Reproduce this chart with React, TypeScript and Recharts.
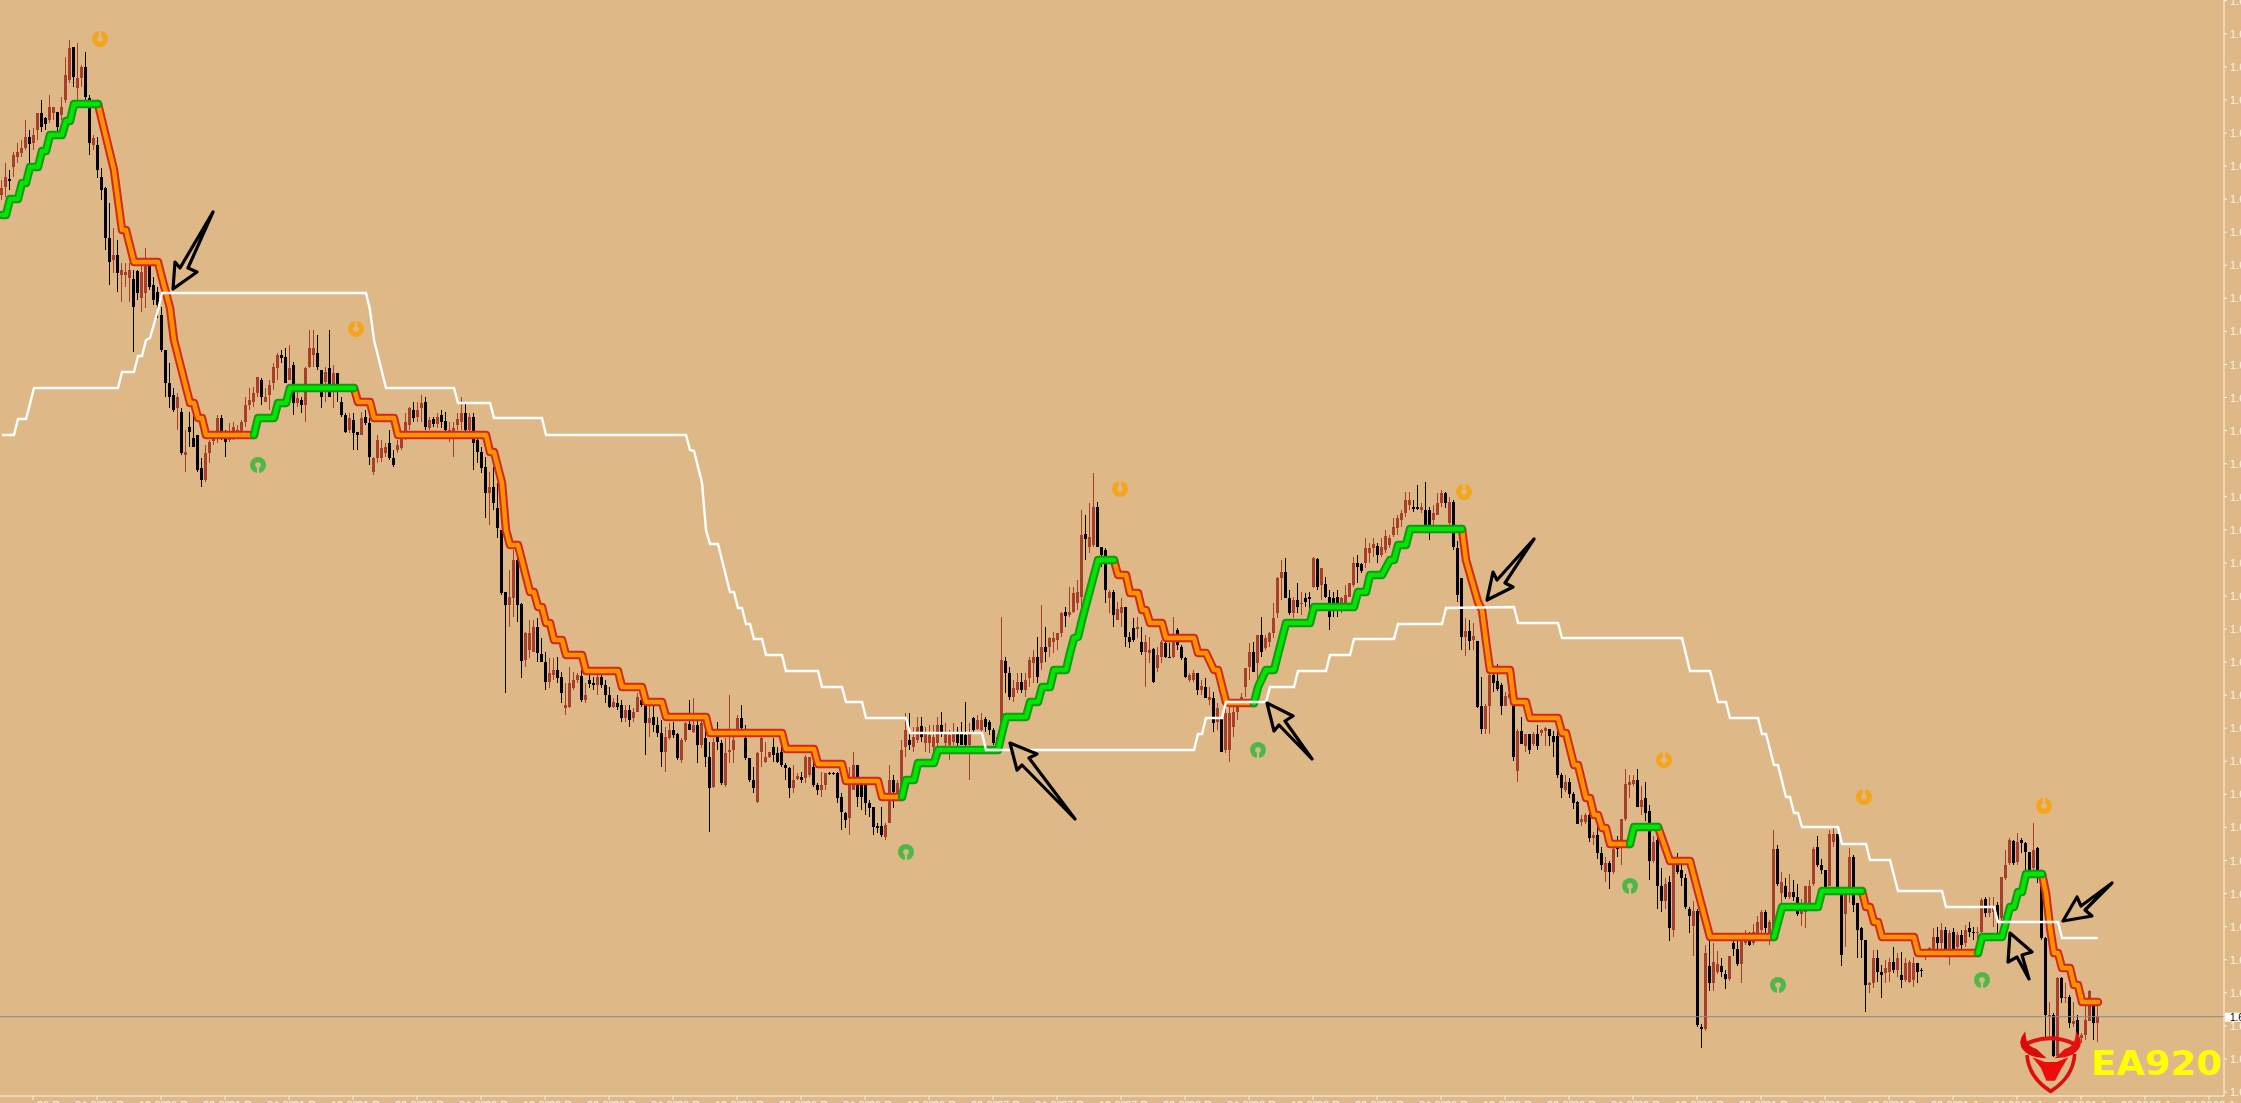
import { Bar, ComposedChart, Line, ReferenceDot, ReferenceLine, XAxis, YAxis } from 'recharts';

type Candle = [number, number, number, number]; // open, high, low, close
type Knot = [number, number]; // bar index, price in points above 1.60000

const BG = '#deb887';
const AXIS = '#fbf3e2';
const BULL = '#a73f2b';
const BEAR = '#000000';

const candlesRise: Candle[] = [
  [905,920,900,912],[913,937,903,923],[921,930,910,919],[933,948,923,945],[943,957,937,948],[947,960,943,952],[952,980,950,963],[963,970,930,956],[957,972,950,965],[970,987,960,987],
  [987,1000,968,973],[982,983,970,976],[980,1005,977,993],[987,993,980,993],[988,988,968,973],[985,1003,980,993],[1000,1043,997,1025],[1020,1060,1017,1052],[1053,1053,1013,1023],[1012,1057,1000,1022],
  [1022,1035,1013,1033],[1033,1048,1000,1003],[1002,1005,945,957],[955,965,950,962],[955,963,922,930],[923,932,900,910],[912,913,850,862],[862,897,815,838],[840,872,827,845],[845,860,808,827],
  [825,837,798,830],[825,837,813,828],[822,837,798,830],[821,830,748,793],[829,830,800,807],[802,837,788,828],[807,852,792,837],[835,840,810,813],[815,823,795,800],[808,813,782,795],
  [785,793,748,750],[750,750,703,717],[717,737,692,703],[705,712,688,690],[692,707,670,703],[688,692,645,647],[645,670,628,648],[673,688,653,668],[662,687,653,653],[665,665,628,630],
  [632,642,613,620],[620,655,618,647],[647,660,637,658],[659,667,655,663],[663,685,657,682],[682,685,660,668],[662,670,643,658],[660,677,658,667],[663,678,660,673],[665,675,662,670],
  [668,680,667,678],[678,703,673,695],[695,712,690,700],[698,713,693,707],[707,723,703,723],[720,722,695,703],[698,712,698,703],[705,720,690,715],[717,737,710,733],[732,747,720,745],
  [745,750,737,742],[743,752,717,717],[720,755,720,732],[735,738,685,697],[697,708,693,702],[700,703,687,695],[695,733,678,732],[733,770,732,752],[745,770,733,752],[747,765,730,733],
  [730,730,692,703],[718,733,698,728],[732,770,703,703],[710,735,692,727],[727,727,698,708],[698,703,683,685],[685,687,667,668],[670,687,667,682],[680,687,650,667],[668,668,650,665],
  [665,688,665,682],[683,690,675,677],[677,682,635,643],[628,643,625,642],[642,665,637,660],[642,660,638,652],[647,657,643,653],[657,670,640,642],[642,650,633,635],[650,660,647,655],
];

const candlesSlide: Candle[] = [
  [652,667,650,662],[668,687,660,678],[675,693,670,692],[690,698,678,682],[683,698,678,690],[692,705,678,697],[698,703,670,673],[672,683,670,680],[681,683,673,676],[676,687,672,683],
  [685,690,672,678],[679,688,668,670],[667,678,658,670],[668,678,643,672],[675,687,670,681],[678,703,670,687],[687,698,668,670],[670,687,668,683],[683,687,630,657],[660,663,637,648],
  [648,653,627,632],[633,643,582,607],[607,628,575,613],[613,633,590,597],[592,617,562,572],[570,570,505,507],[508,508,407,495],[495,530,473,503],[502,550,483,540],[540,542,478,495],
  [496,497,422,439],[440,468,433,467],[450,480,442,467],[448,480,448,473],[473,482,438,447],[446,462,438,438],[438,448,410,418],[418,442,412,427],[425,442,420,430],[430,443,417,422],
  [423,428,397,407],[392,417,385,395],[393,433,392,417],[412,428,410,420],[420,427,417,425],[424,430,398,400],[400,417,397,405],[420,425,412,416],[417,423,410,415],[415,425,405,423],
  [423,425,412,415],[415,420,397,405],[405,413,392,393],[393,402,392,398],[397,405,390,393],[395,400,378,382],[382,395,378,390],[390,395,373,380],[382,392,378,388],[388,407,388,403],
  [400,403,393,395],[395,397,345,377],[377,395,363,382],[383,395,368,375],[375,383,363,367],[367,380,333,348],[348,373,328,363],[362,377,360,370],[370,378,362,365],[366,367,340,342],
  [340,362,337,360],[360,378,358,377],[376,400,370,370],[368,402,367,375],[375,385,337,355],[355,382,352,377],[362,380,333,343],[343,358,268,312],[313,362,312,358],[367,378,350,358],
  [357,360,315,317],[315,362,313,347],[348,405,337,350],[350,367,337,360],[370,385,368,382],[382,395,367,372],[362,375,340,342],[342,342,318,320],[320,333,307,312],[298,348,297,347],
  [348,363,333,362],[338,358,337,343],[343,348,342,348],[353,362,338,345],[347,353,337,338],[348,357,333,335],[335,337,320,332],[332,333,302,312],[312,335,307,320],[321,327,320,324],
  [323,328,317,320],[322,345,317,343],[325,343,323,343],[333,340,313,315],[315,317,305,310],[310,328,303,315],[315,327,310,327],[327,328,325,326],[327,328,325,326],[327,328,297,302],
  [303,307,270,288],[287,288,272,280],[282,333,265,320],[310,348,310,335],[335,335,293,303],[317,322,290,303],[315,315,285,297],[297,300,283,292],[293,293,265,273],[274,277,267,272],
  [274,293,263,265],[263,277,260,275],[277,335,277,320],[320,325,292,308],[305,320,303,317],
];

const candlesRebound: Candle[] = [
  [307,360,307,350],[353,387,343,370],[360,387,350,355],[353,373,348,363],[360,383,357,373],[374,383,358,363],[357,373,348,367],[357,375,347,365],[353,375,340,363],[357,383,353,375],
  [375,388,363,367],[357,377,347,367],[355,370,340,365],[358,377,355,367],[367,373,353,357],[367,378,355,355],[365,398,352,355],[355,377,320,367],[382,383,367,370],[371,385,370,380],
  [370,387,365,380],[381,383,368,373],[378,380,365,370],[370,372,355,357],[355,363,347,363],[373,483,367,440],[439,443,407,427],[427,433,400,403],[403,420,398,412],[410,427,407,418],
  [418,427,407,410],[410,427,403,420],[422,443,413,440],[437,450,417,443],[443,463,417,423],[437,495,430,453],[453,473,438,448],[453,463,443,462],[458,468,447,462],[460,467,450,467],
  [467,488,463,487],[488,493,473,484],[485,513,483,488],[488,513,487,507],[497,520,490,508],[503,590,493,565],[566,585,540,561],[553,597,547,563],[555,627,553,593],[593,598,553,553],
  [553,553,533,545],[550,552,497,510],[502,510,487,508],[508,510,473,485],[480,498,480,491],[487,502,473,493],[493,493,453,463],[463,468,452,458],[472,482,458,460],[471,483,462,473],
  [458,473,445,448],[448,465,413,458],[447,463,437,450],[451,452,417,418],[432,453,428,445],[443,460,437,458],[457,458,442,443],[443,457,442,442],[443,483,442,458],[470,472,450,455],
  [453,455,440,442],[442,443,422,423],[420,427,418,425],[420,430,418,427],[427,427,405,410],[410,420,405,414],[413,422,402,402],[400,413,395,403],[402,408,368,377],[378,397,370,392],
  [382,383,348,348],[350,393,347,387],[350,397,338,387],[373,397,363,388],[388,393,380,393],[397,407,393,403],[413,432,403,432],[433,457,420,448],[448,458,428,428],[437,465,420,465],
  [465,483,443,448],[452,465,450,462],[458,468,453,467],[467,497,462,482],[487,523,482,522],[522,540,500,528],[528,542,507,502],[502,510,485,487],[487,503,482,500],[500,517,487,493],
  [496,508,485,497],[502,507,493,498],[503,508,490,501],[513,543,512,542],[541,542,510,513],[515,532,500,532],[516,523,502,503],[503,510,470,483],[502,508,483,493],[503,510,483,493],
  [493,503,487,502],[495,515,493,505],[503,517,503,517],[515,543,513,537],[537,545,517,533],[536,537,527,529],[537,562,532,552],[547,557,537,552],[552,562,543,556],[554,557,537,545],
  [545,562,543,553],[550,570,547,564],[555,565,552,562],[565,582,563,573],[572,585,565,582],[580,590,573,587],[587,608,583,600],[595,608,590,600],[593,600,588,591],[593,615,590,591],
  [590,597,587,593],[590,618,575,575],[590,593,560,575],[580,595,575,587],[585,607,585,597],[597,610,593,607],[607,608,592,597],[577,603,575,598],[598,600,550,553],
];

const candlesDrop: Candle[] = [
  [552,559,498,505],[522,522,450,463],[463,482,444,469],[469,480,450,459],[460,477,450,464],[459,459,392,393],[394,423,366,371],[371,396,366,394],[394,427,366,425],[425,426,408,417],
  [419,436,409,411],[415,417,385,394],[394,408,394,404],[402,417,402,406],[398,400,339,343],[329,371,318,369],[369,383,356,356],[354,366,348,366],[366,366,346,350],[356,368,354,366],
  [366,375,350,354],[367,371,364,370],[369,373,354,372],[371,371,354,364],[364,369,343,358],[364,375,322,325],[325,327,302,312],[310,325,308,318],[318,322,302,306],[306,308,291,297],
  [298,299,276,276],[278,285,274,281],[278,287,276,285],[285,287,258,262],[262,268,255,265],[265,274,241,247],[247,253,230,235],[228,243,218,237],[237,239,211,228],[228,253,226,251],
  [258,264,243,251],[258,281,235,281],[281,331,279,316],[315,325,302,318],[316,325,314,320],[320,331,293,293],[293,314,285,300],[302,318,279,287],[289,295,220,239],[239,264,237,258],
  [260,268,191,214],[214,232,188,199],[199,222,191,216],[218,224,159,172],[170,237,163,235],[235,247,226,228],[230,235,214,222],[222,226,191,193],[191,193,167,184],[174,199,144,189],
  [189,191,73,75],[73,76,52,71],[71,155,69,147],[134,159,109,117],[117,157,109,138],[128,149,126,136],[134,142,123,128],[126,130,111,121],[121,144,119,144],[157,159,144,151],
  [151,159,134,136],[136,161,117,159],[157,170,155,165],[159,168,154,155],[157,176,155,168],[163,184,163,178],[170,190,167,188],[188,190,163,172],[163,180,155,178],[170,270,163,251],
  [251,255,214,216],[207,228,197,218],[214,222,201,203],[203,226,201,208],[208,220,199,203],[203,216,184,186],[186,201,174,193],[188,214,172,214],[197,220,195,214],[216,253,214,251],
  [253,264,233,235],[235,241,226,230],[230,230,211,213],[214,270,214,266],[258,274,253,266],[266,266,209,213],[211,211,134,145],[186,208,153,205],[210,252,197,243],[243,245,188,195],
  [197,197,142,170],[172,173,142,160],[160,160,88,115],[115,118,107,117],[117,150,112,142],[142,150,118,128],[128,135,102,125],[127,140,117,132],[128,142,118,138],[138,153,127,130],
  [130,147,123,142],[125,148,112,120],[120,142,118,137],[118,140,117,138],[120,143,113,137],[137,137,117,128],[130,132,123,129],[145,150,140,148],[147,153,143,152],[150,172,148,163],
  [163,173,148,157],[157,177,150,170],[170,173,143,150],[150,170,135,167],[168,172,150,150],[153,168,148,165],[165,170,150,155],[157,175,153,170],[172,178,163,168],[168,173,160,167],
  [167,173,150,168],[168,202,167,200],[201,203,183,187],[187,203,183,193],[188,203,173,193],[195,198,165,180],[182,223,167,223],[222,250,220,235],[237,262,235,260],[259,260,235,237],
  [238,267,235,258],[260,262,247,257],[257,258,210,248],[248,248,225,230],[232,277,230,250],[252,253,217,230],[228,230,160,162],[162,163,63,85],[83,98,63,85],[85,87,43,44],
  [44,123,43,122],[122,123,97,102],[102,117,97,103],[103,105,72,77],[76,98,73,79],[80,85,60,65],[62,67,57,65],[65,98,60,80],[79,110,79,109],[94,95,60,77],
  [77,97,58,84],
];

const greenRuns: Knot[][] = [
  [[0,885],[1,885],[2,901],[4,901],[5,917],[6,917],[7,933],[9,933],[10,949],[11,949],[12,965],[15,965],[16,979],[17,979],[18,996],[24,996]],
  [[63,665],[64,682],[68,682],[69,697],[71,697],[72,712],[88,712]],
  [[225,303],[226,320],[228,320],[229,337],[233,337],[234,350],[249,350],[250,367],[251,383],[256,383],[257,398],[259,398],[260,413],[262,413],[263,430],[266,430],[267,447],[268,462],[269,463],[270,480],[274,540],[278,540]],
  [[313,397],[314,413],[316,430],[318,430],[321,477],[327,477],[328,493],[338,493],[339,508],[341,508],[342,525],[345,525],[347,540],[348,540],[349,555],[351,555],[352,571],[365,571]],
  [[407,256],[408,273],[414,273]],
  [[443,163],[445,193],[454,193],[455,209],[465,209]],
  [[494,147],[495,163],[500,163],[502,193],[503,193],[504,208],[505,208],[506,226],[510,226]],
];

const redRuns: Knot[][] = [
  [[24,996],[26,963],[28,930],[29,900],[30,870],[31,870],[33,838],[39,838],[40,822],[42,792],[43,760],[47,697],[48,697],[49,682],[50,682],[51,665],[63,665]],
  [[88,712],[89,698],[92,698],[93,682],[98,682],[99,665],[121,665],[122,648],[123,648],[125,617],[126,570],[127,555],[129,555],[132,508],[133,508],[134,493],[135,493],[136,477],[137,477],[138,460],[140,460],[141,445],[145,445],[146,429],[154,429],[155,413],[160,413],[161,398],[165,398],[166,383],[176,383],[177,367],[195,367],[196,351],[203,351],[204,336],[210,336],[211,319],[219,319],[220,303],[225,303]],
  [[278,540],[279,525],[281,525],[282,507],[284,507],[285,490],[286,490],[287,477],[290,477],[291,462],[298,462],[299,447],[301,447],[303,430],[304,430],[306,398],[307,397],[313,397]],
  [[365,571],[366,540],[369,498],[370,490],[371,459],[372,430],[377,430],[378,398],[381,398],[382,382],[389,382],[390,367],[391,367],[393,335],[394,335],[396,302],[397,302],[398,285],[399,285],[400,272],[401,272],[402,256],[407,256]],
  [[414,273],[417,239],[422,239],[427,163],[443,163]],
  [[465,209],[466,193],[467,193],[468,178],[469,178],[470,163],[478,163],[479,147],[494,147]],
  [[510,226],[511,207],[512,173],[513,147],[514,147],[515,132],[517,132],[518,115],[519,115],[520,98],[524,98]],
];

const whiteLine: Knot[] = [
  [0,665],[3,665],[4,681],[6,681],[8,712],[29,712],[30,728],[33,728],[34,744],[35,744],[36,760],[37,762],[39,790],[40,807],[91,807],[92,790],[93,760],[96,712],[113,712],[114,697],[122,697],[123,682],[135,682],[136,665],[171,665],[172,650],[173,649],[175,617],[176,570],[177,556],[179,556],[182,508],[183,508],[184,492],[185,492],[186,476],[187,476],[188,461],[190,461],[191,445],[195,445],[196,429],[204,429],[205,413],[210,413],[211,398],[215,398],[216,382],[226,382],[227,367],[245,367],[246,350],[298,350],[299,366],[300,366],[301,382],[305,382],[306,398],[316,398],[317,413],[323,413],[324,429],[331,429],[332,445],[337,445],[338,461],[348,461],[349,476],[360,476],[361,492],[378,493],[379,477],[389,477],[390,462],[420,462],[422,429],[427,429],[429,398],[431,398],[432,382],[439,382],[440,366],[441,366],[443,335],[444,335],[446,303],[447,303],[448,287],[449,287],[450,273],[459,273],[460,256],[466,256],[467,240],[472,240],[474,209],[485,209],[486,193],[498,193],[499,178],[514,178],[515,162],[524,162],
];

const sellMarks: Knot[] = [[24,1061],[88,771],[279,611],[365,608],[415,340],[465,303],[510,294]];
const buyMarks: Knot[] = [[64,635],[226,248],[314,350],[407,214],[444,115],[495,120]];

// hand-drawn annotation arrows: tip on the price scale, outline offsets in pixels
const arrowTips: Knot[] = [[42.75,811],[252,357],[316.25,397],[371.25,500],[502,167],[515.25,179]];
const arrowOutlines = [
  '0,0 2,-27 7,-21 40,-77 15,-21 24,-17',
  '0,0 27,11 19,15 65,76 12,22 7,27',
  '0,0 26,13 18,18 45,56 12,22 7,28',
  '0,0 6,-28 10,-20 47,-61 18,-17 26,-13',
  '0,0 22,19 12,22 19,46 7,24 -2,29',
  '0,0 14,-24 18,-15 49,-38 22,-11 29,-5',
];

const currentPrice = 83.3;
const priceTicks = [1099.3,1066.2,1033.2,1000.1,967,934,900.9,867.8,834.7,801.7,768.6,735.5,702.5,669.4,636.3,603.3,570.2,537.1,504,471,437.9,404.8,371.8,338.7,305.6,272.6,239.5,206.4,173.3,140.3,107.2,74.1,41.1,8];
const timeTicks = [7.75,23.75,39.75,55.75,71.75,87.75,103.75,119.75,135.75,151.75,167.75,183.75,199.75,215.75,231.75,247.75,263.75,279.75,295.75,311.75,327.75,343.75,359.75,375.75,391.75,407.75,423.75,439.75,455.75,471.75,487.75,503.75,519.75,535.75,551.75];
const timeLabels = ['20 Dec 04:00','20 Dec 12:00','20 Dec 20:00','21 Dec 04:00','21 Dec 12:00','21 Dec 20:00','22 Dec 04:00','22 Dec 12:00','22 Dec 20:00','23 Dec 04:00','23 Dec 12:00','23 Dec 20:00','26 Dec 04:00','26 Dec 12:00','26 Dec 20:00','27 Dec 04:00','27 Dec 12:00','27 Dec 20:00','28 Dec 04:00','28 Dec 12:00','28 Dec 20:00','29 Dec 04:00','29 Dec 12:00','29 Dec 20:00','30 Dec 04:00','30 Dec 12:00','30 Dec 20:00','31 Dec 04:00','31 Dec 12:00','31 Dec 20:00','01 Jan 04:00','01 Jan 12:00','01 Jan 20:00','02 Jan 04:00','02 Jan 12:00'];

const candles = [...candlesRise, ...candlesSlide, ...candlesRebound, ...candlesDrop];

const rows: any[] = candles.map(([open, high, low, close], i) => ({ i, open, close, range: [low, high] }));

function addKnots(key: string, knots: Knot[]) {
  knots.forEach(([i, value]) => {
    if (rows[i]) rows[i][key] = value;
  });
}
addKnots('white', whiteLine);
addKnots('sell', sellMarks);
addKnots('buy', buyMarks);
greenRuns.forEach((run, n) => addKnots(`green${n}`, run));
redRuns.forEach((run, n) => addKnots(`red${n}`, run));

function CandleShape(props: any) {
  const { x, y, width, height, payload } = props;
  const [low, high] = payload.range;
  const perPoint = height / (high - low);
  const center = Math.floor(x + width / 2);
  const top = y + (high - Math.max(payload.open, payload.close)) * perPoint;
  const bottom = y + (high - Math.min(payload.open, payload.close)) * perPoint;
  const fill = payload.close >= payload.open ? BULL : BEAR;
  return (
    <g>
      <rect x={center} y={y} width={1} height={height} fill={fill} />
      <rect x={center - 1} y={top} width={3} height={Math.max(bottom - top, 1)} fill={fill} />
    </g>
  );
}

function SignalMark({ cx, cy, value, color, up, shift = 0 }: any) {
  if (value === null || value === undefined) return <g />;
  const x = cx + shift;
  return (
    <g>
      <circle cx={x} cy={cy} r={8} fill={color} />
      <circle cx={x} cy={cy} r={2.8} fill={BG} />
      <rect x={x - 1.1} y={up ? cy : cy - 8.5} width={2.2} height={8.5} fill={BG} />
    </g>
  );
}

function PriceTick({ x, y, payload }: any) {
  if (payload.value === currentPrice) {
    return (
      <g>
        <rect x={x + 1} y={y - 4} width={17} height={9} fill="#ffffff" />
        <text x={x + 6} y={y + 4} fontSize={10} fontFamily="Liberation Sans" fill="#000">1.6</text>
      </g>
    );
  }
  return (
    <g>
      <line x1={x} x2={x + 3} y1={y} y2={y} stroke={AXIS} />
      <text x={x + 6} y={y + 4} fontSize={11} fontFamily="Liberation Sans" fill={AXIS}>
        {(1.6 + payload.value / 100000).toFixed(5)}
      </text>
    </g>
  );
}

function TimeTick({ x, y, index }: any) {
  return (
    <g>
      <line x1={x} x2={x} y1={y} y2={y + 4} stroke={AXIS} />
      <text x={x + 4} y={y + 13} fontSize={11} fontFamily="Liberation Sans" fill={AXIS}>
        {timeLabels[index]}
      </text>
    </g>
  );
}

function Logo() {
  return (
    <svg width={2241} height={1103} style={{ position: 'absolute', left: 0, top: 0, pointerEvents: 'none' }}>
      <g transform="translate(2015 1030) scale(0.3333)">
        <path d="M32 42 Q105 8 178 42" fill="none" stroke="#e60f0f" strokeWidth={12} />
        <path d="M28 15 C5 48 35 78 84 80 L62 60 C42 56 30 42 28 15Z" fill="#d80c0c" stroke="#d80c0c" strokeWidth={8} />
        <path d="M186 15 C208 48 178 78 130 80 L152 60 C170 56 184 42 186 15Z" fill="#e60f0f" stroke="#e60f0f" strokeWidth={8} />
        <path d="M36 75 C40 125 72 162 107 184 C142 162 176 125 179 72" fill="none" stroke="#de0d0d" strokeWidth={11} />
        <path d="M52 82 L90 96 L125 96 L160 82 L140 114 L120 152 L94 152 L78 114Z" fill="#ee0b0b" />
      </g>
      <text x={2091} y={1075} fontFamily="DejaVu Sans" fontWeight="bold" fontSize={34} fill="#ffff00" textLength={131} lengthAdjust="spacingAndGlyphs">
        EA920
      </text>
    </svg>
  );
}

export default function App() {
  return (
    <div style={{ position: 'absolute', left: 0, top: 0, width: 2241, height: 1103, background: BG, overflow: 'hidden' }}>
      <ComposedChart width={2241} height={1103} data={rows} margin={{ top: 0, right: 0, bottom: 0, left: 0 }}>
        <XAxis
          type="number"
          dataKey="i"
          domain={[-0.5, 555.5]}
          ticks={timeTicks}
          interval={0}
          height={7}
          tickSize={0}
          tickMargin={0}
          stroke={AXIS}
          tick={<TimeTick />}
        />
        <YAxis
          orientation="right"
          width={17}
          domain={[4, 1100]}
          ticks={[...priceTicks, currentPrice]}
          interval={0}
          tickSize={0}
          tickMargin={0}
          stroke={AXIS}
          tick={<PriceTick />}
        />
        <ReferenceLine y={currentPrice} stroke="#7f8a99" />
        <Bar dataKey="range" barSize={3} shape={<CandleShape />} isAnimationActive={false} />
        {redRuns.map((_, n) => (
          <Line key={`ro${n}`} dataKey={`red${n}`} connectNulls dot={false} activeDot={false} stroke="#d3291b" strokeWidth={8.5} strokeLinejoin="round" strokeLinecap="round" isAnimationActive={false} />
        ))}
        {redRuns.map((_, n) => (
          <Line key={`ri${n}`} dataKey={`red${n}`} connectNulls dot={false} activeDot={false} stroke="#ff9100" strokeWidth={4.5} strokeLinejoin="round" strokeLinecap="round" isAnimationActive={false} />
        ))}
        {greenRuns.map((_, n) => (
          <Line key={`go${n}`} dataKey={`green${n}`} connectNulls dot={false} activeDot={false} stroke="#0f9a14" strokeWidth={8.5} strokeLinejoin="round" strokeLinecap="round" isAnimationActive={false} />
        ))}
        {greenRuns.map((_, n) => (
          <Line key={`gi${n}`} dataKey={`green${n}`} connectNulls dot={false} activeDot={false} stroke="#00e600" strokeWidth={4.5} strokeLinejoin="round" strokeLinecap="round" isAnimationActive={false} />
        ))}
        <Line dataKey="white" connectNulls dot={false} activeDot={false} stroke="#ffffff" strokeWidth={2.4} isAnimationActive={false} />
        <Line
          dataKey="sell"
          stroke="none"
          activeDot={false}
          isAnimationActive={false}
          dot={(p: any) => <SignalMark key={`s${p.index}`} {...p} color="#f5a41e" up={false} shift={2} />}
        />
        <Line
          dataKey="buy"
          stroke="none"
          activeDot={false}
          isAnimationActive={false}
          dot={(p: any) => <SignalMark key={`b${p.index}`} {...p} color="#4db848" up />}
        />
        {arrowTips.map(([i, price], n) => (
          <ReferenceDot
            key={`arrow${n}`}
            x={i}
            y={price}
            shape={(p: any) => (
              <polygon
                transform={`translate(${p.cx} ${p.cy})`}
                points={arrowOutlines[n]}
                fill={BG}
                stroke="#000"
                strokeWidth={3.2}
                strokeLinejoin="round"
              />
            )}
          />
        ))}
      </ComposedChart>
      <Logo />
    </div>
  );
}
